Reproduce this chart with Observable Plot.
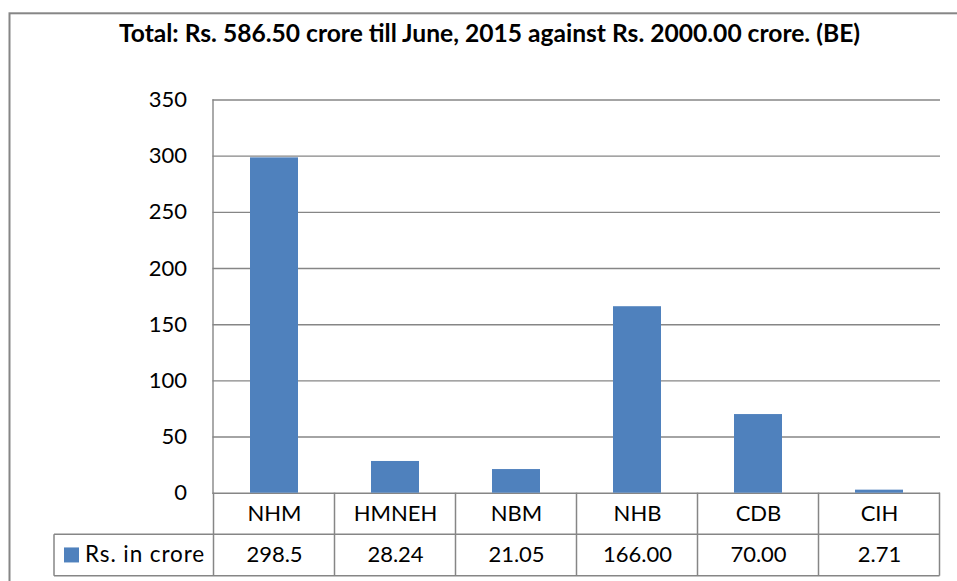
<!DOCTYPE html>
<html>
<head>
<meta charset="utf-8">
<script src="https://cdn.jsdelivr.net/npm/d3@7"></script>
<script src="https://cdn.jsdelivr.net/npm/@observablehq/plot@0.6"></script>
<style>
  html, body { margin: 0; padding: 0; background: #fff; }
  #wrap { position: relative; width: 957px; height: 581px; overflow: hidden; }
  #wrap svg { position: absolute; left: 0; top: 0; }
</style>
</head>
<body>
<div id="wrap"></div>
<script>
const titleText = "Total: Rs. 586.50 crore till June, 2015 against Rs. 2000.00 crore. (BE)";
const categories = ["NHM", "HMNEH", "NBM", "NHB", "CDB", "CIH"];
const values = [298.5, 28.24, 21.05, 166.00, 70.00, 2.71];
const valueLabels = ["298.5", "28.24", "21.05", "166.00", "70.00", "2.71"];
const yTicks = [0, 50, 100, 150, 200, 250, 300, 350];
const seriesName = "Rs. in crore";

const data = categories.map((c, i) => ({cat: c, value: values[i], label: valueLabels[i]}));

const FONT = "Lato, 'Open Sans', sans-serif";
const GRID = "#868686";
const BAR = "#4F81BD";

const rowH = 41.5;

const chart = Plot.plot({
  width: 957,
  height: 581,
  marginLeft: 212.5,
  marginRight: 17,
  marginTop: 99.5,
  marginBottom: 88.3,
  style: {fontFamily: FONT, fontSize: "22px", color: "#000", background: "transparent", overflow: "visible"},
  x: {domain: categories, paddingInner: 0.6, paddingOuter: 0.3, axis: null},
  y: {domain: [0, 350], axis: null, label: null},
  marks: [
    Plot.gridY(yTicks, {stroke: GRID, strokeOpacity: 1, strokeWidth: 1.4}),
    Plot.barY(data, {x: "cat", y: "value", fill: BAR}),
    Plot.frame({anchor: "left", stroke: GRID, strokeWidth: 1.4}),
    Plot.axisY(yTicks, {tickSize: 0, tickPadding: 26, fontSize: 22, fill: "#000", label: null, tickFormat: d => String(d)}),
    Plot.text(categories, {x: d => d, text: d => d, frameAnchor: "bottom", dy: rowH / 2, lineAnchor: "middle", fontSize: 22, fill: "#000"}),
    Plot.text(data, {x: "cat", text: "label", frameAnchor: "bottom", dy: rowH * 1.5, lineAnchor: "middle", fontSize: 22, fill: "#000"})
  ]
});

document.getElementById("wrap").appendChild(chart);

// Decorations: outer chart border, title, data-table grid and legend key
const svg = d3.select(chart);
const xs = chart.scale("x");
const ys = chart.scale("y");
const step = xs.step;
const bw = xs.bandwidth;
const y0 = ys.apply(0);
const y1 = y0 + rowH;
const y2 = y0 + 2 * rowH;
const tableLeft = 54;
const plotLeft = xs.apply(categories[0]) + bw / 2 - step / 2;
const plotRight = plotLeft + step * categories.length;

const deco = svg.insert("g", ":first-child");
deco.append("rect")
  .attr("x", 9.5).attr("y", 13.3).attr("width", 1200).attr("height", 1200)
  .attr("fill", "none").attr("stroke", GRID).attr("stroke-width", 2);

const titleG = svg.append("g");
titleG.append("text")
  .attr("x", 489.5).attr("y", 42)
  .attr("text-anchor", "middle")
  .attr("font-family", FONT).attr("font-weight", "bold").attr("font-size", 24.6)
  .attr("fill", "#000")
  .text(titleText);

const tg = svg.append("g").attr("stroke", GRID).attr("stroke-width", 1.5).attr("fill", "none");
tg.append("line").attr("x1", tableLeft).attr("x2", plotRight).attr("y1", y1).attr("y2", y1);
tg.append("line").attr("x1", tableLeft).attr("x2", plotRight).attr("y1", y2).attr("y2", y2);
tg.append("line").attr("x1", tableLeft).attr("x2", tableLeft).attr("y1", y1).attr("y2", y2);
categories.forEach((c) => {
  const xl = xs.apply(c) + bw / 2 - step / 2;
  tg.append("line").attr("x1", xl).attr("x2", xl).attr("y1", y0).attr("y2", y2);
});
tg.append("line").attr("x1", plotRight).attr("x2", plotRight).attr("y1", y0).attr("y2", y2);

const lg = svg.append("g");
lg.append("rect")
  .attr("x", tableLeft + 10).attr("y", (y1 + y2) / 2 - 7.5)
  .attr("width", 15).attr("height", 15).attr("fill", BAR);
lg.append("text")
  .attr("x", tableLeft + 31).attr("y", (y1 + y2) / 2)
  .attr("dy", "0.32em")
  .attr("text-anchor", "start")
  .attr("letter-spacing", "0.9px")
  .attr("font-family", FONT).attr("font-size", 22.5).attr("fill", "#000")
  .text(seriesName);
</script>
</body>
</html>
